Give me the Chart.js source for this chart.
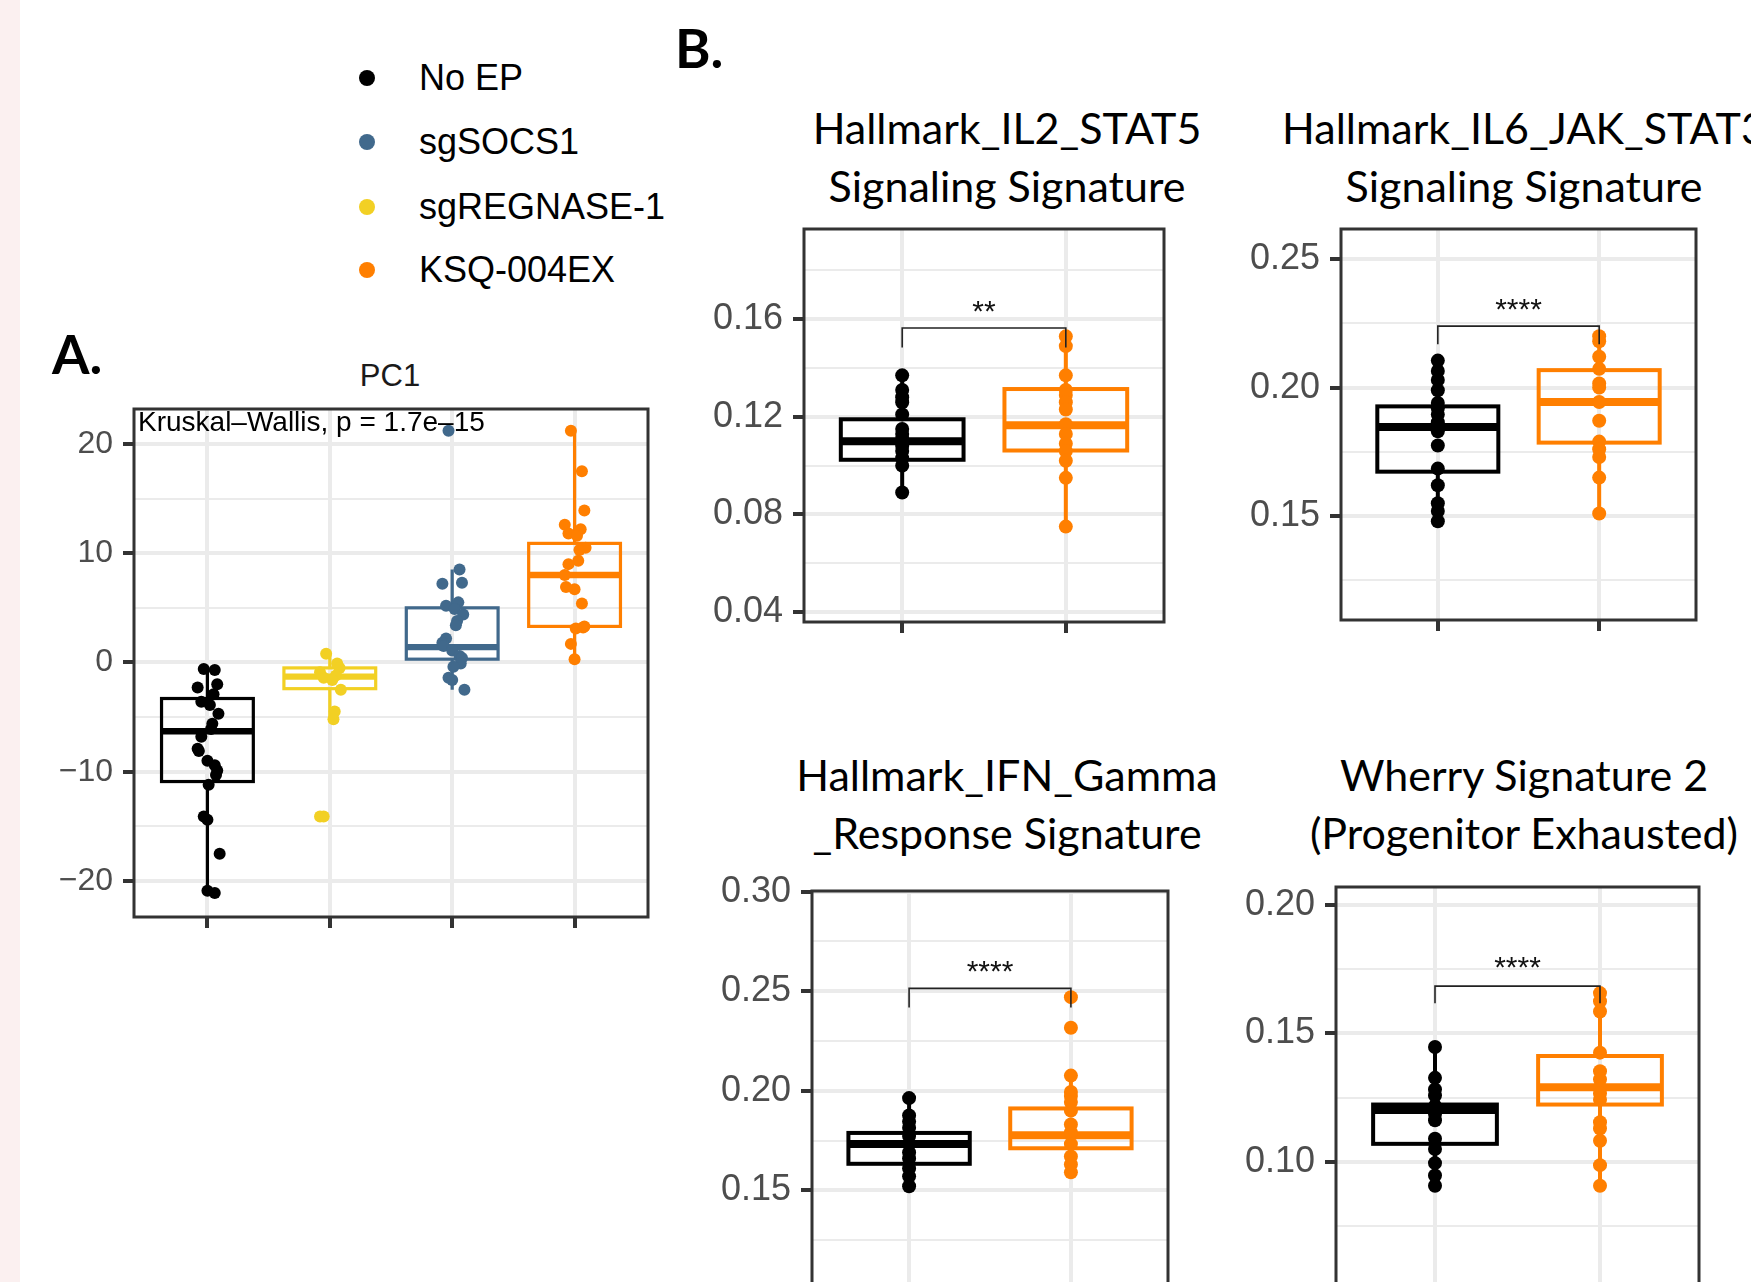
<!DOCTYPE html>
<html>
<head>
<meta charset="utf-8">
<script src="https://cdn.jsdelivr.net/npm/chart.js@4.4.1/dist/chart.umd.min.js"></script>
<style>
  html, body { margin: 0; padding: 0; overflow: hidden; background: #fff; }
  body { width: 1751px; height: 1282px; position: relative; font-family: "Liberation Sans", Arial, sans-serif; }
  .strip { position: absolute; left: 0; top: 0; width: 20px; height: 1282px; background: #fbf0f0; }
  .lab { position: absolute; font-family: Lato, sans-serif; font-weight: bold; font-size: 54px; line-height: 54px; color: #000; }
  .title { position: absolute; width: 700px; font-family: Lato, sans-serif; font-size: 43px; line-height: 58px; text-align: center; white-space: nowrap; color: #000; }
  .leg { position: absolute; font-size: 36px; line-height: 36px; color: #000; white-space: nowrap; }
  .dot { position: absolute; width: 16px; height: 16px; border-radius: 50%; }
  canvas { position: absolute; }
</style>
</head>
<body>
<div class="strip"></div>
<div class="lab" style="left:52px;top:327px">A.</div>
<div class="lab" style="left:675px;top:21px">B.</div>
<div id="legend"></div>
<div class="title" style="left:40px;top:360px;width:700px;font-family:'Liberation Sans';font-size:31px;line-height:31px;color:#1a1a1a">PC1</div>
<div class="title" style="left:657px;top:99px">Hallmark_IL2_STAT5<br>Signaling Signature</div>
<div class="title" style="left:1174px;top:99px">Hallmark_IL6_JAK_STAT3<br>Signaling Signature</div>
<div class="title" style="left:657px;top:746px">Hallmark_IFN_Gamma<br>_Response Signature</div>
<div class="title" style="left:1174px;top:746px">Wherry Signature 2<br>(Progenitor Exhausted)</div>

<script>
// groups and colours
const legendLabels = ["No EP", "sgSOCS1", "sgREGNASE-1", "KSQ-004EX"];
const legendColors = ["#000000", "#41698c", "#f2d024", "#ff7f00"];

// Panel A: PC1, x order No EP, sgREGNASE-1, sgSOCS1, KSQ-004EX
const pc1Groups = ["No EP", "sgREGNASE-1", "sgSOCS1", "KSQ-004EX"];
const pc1NoEP = [-0.6, -0.7, -2.0, -2.3, -2.9, -3.6, -3.9, -4.7, -5.6, -6.1, -6.8, -7.9, -8.1, -9.0, -9.4, -9.9, -10.3, -11.2, -14.1, -14.4, -17.5, -20.9, -21.1];
const pc1Regnase = [0.8, -0.1, -0.5, -0.9, -1.2, -1.4, -1.6, -2.5, -4.5, -5.2, -14.1, -14.1];
const pc1Socs1 = [21.2, 8.5, 7.3, 7.2, 5.5, 5.2, 4.9, 4.4, 3.8, 3.4, 2.2, 1.8, 1.5, 1.1, 0.6, 0.4, -0.1, -0.4, -1.4, -1.6, -2.5];
const pc1Ksq = [21.2, 17.5, 13.9, 12.6, 12.2, 11.8, 11.6, 10.5, 10.3, 9.3, 9.0, 8.0, 6.9, 6.7, 5.4, 3.3, 3.2, 3.1, 1.7, 0.3];
// box stats: [lower whisker, q1, median, q3, upper whisker]
const pc1Boxes = [
  [-21.1, -10.9, -6.3, -3.3, -0.6],
  [-5.2, -2.4, -1.3, -0.5, 0.8],
  [-2.5, 0.3, 1.4, 5.0, 8.5],
  [0.3, 3.3, 8.0, 10.9, 21.2]
];
const pc1Ticks = [-20, -10, 0, 10, 20];
const pc1Minor = [-15, -5, 5, 15];

// Panel B: No EP vs KSQ-004EX
const il2NoEP = [0.137, 0.131, 0.128, 0.126, 0.121, 0.115, 0.113, 0.111, 0.110, 0.108, 0.106, 0.103, 0.100, 0.089];
const il2Ksq = [0.153, 0.149, 0.137, 0.131, 0.129, 0.126, 0.123, 0.117, 0.113, 0.109, 0.106, 0.102, 0.095, 0.075];
const il2Boxes = [[0.089, 0.1024, 0.110, 0.119, 0.137], [0.075, 0.1062, 0.1166, 0.1314, 0.153]];
const il2Ticks = [0.04, 0.08, 0.12, 0.16];
const il2Minor = [0.06, 0.10, 0.14, 0.18];

const il6NoEP = [0.2105, 0.2065, 0.203, 0.199, 0.194, 0.192, 0.1895, 0.1865, 0.183, 0.1775, 0.1685, 0.162, 0.155, 0.152, 0.148];
const il6Ksq = [0.220, 0.218, 0.212, 0.2073, 0.2016, 0.200, 0.1944, 0.1871, 0.179, 0.176, 0.173, 0.165, 0.151];
const il6Boxes = [[0.148, 0.1673, 0.1847, 0.1927, 0.2105], [0.151, 0.1786, 0.1944, 0.2068, 0.220]];
const il6Ticks = [0.15, 0.20, 0.25];
const il6Minor = [0.125, 0.175, 0.225];

const ifnNoEP = [0.1963, 0.1876, 0.1845, 0.1814, 0.1773, 0.1732, 0.169, 0.166, 0.161, 0.157, 0.152];
const ifnKsq = [0.247, 0.2316, 0.2076, 0.1994, 0.1974, 0.1943, 0.190, 0.183, 0.179, 0.1732, 0.167, 0.163, 0.159];
const ifnBoxes = [[0.152, 0.1633, 0.1732, 0.1788, 0.1963], [0.159, 0.1711, 0.1777, 0.1911, 0.2076]];
const ifnTicks = [0.15, 0.20, 0.25, 0.30];
const ifnMinor = [0.125, 0.175, 0.225, 0.275];

const wherryNoEP = [0.1447, 0.1327, 0.1282, 0.1258, 0.1218, 0.1186, 0.1162, 0.109, 0.105, 0.0995, 0.0947, 0.0907];
const wherryKsq = [0.1657, 0.1625, 0.1585, 0.1425, 0.1353, 0.1321, 0.129, 0.1266, 0.1242, 0.1154, 0.113, 0.1082, 0.0987, 0.0907];
const wherryBoxes = [[0.0907, 0.107, 0.1202, 0.1223, 0.1447], [0.0907, 0.1223, 0.129, 0.1412, 0.1657]];
const wherryTicks = [0.10, 0.15, 0.20];
const wherryMinor = [0.075, 0.125, 0.175];

// significance: [bracket y, drop-to y, label y, label]
const il2Sig = [0.1564, 0.1484, 0.165, "**"];
const il6Sig = [0.2239, 0.2169, 0.2323, "****"];
const ifnSig = [0.2514, 0.2418, 0.2623, "****"];
const wherrySig = [0.1684, 0.1617, 0.1776, "****"];

// horizontal jitter used for panel A points
const jitterA = [-0.03, 0.06, 0.08, -0.08, 0.05, -0.05, 0.02, 0.09, 0.04, 0.03, -0.05, -0.08, -0.07, 0.00, 0.06, 0.08, 0.07, 0.01, -0.03, 0.00, 0.10, 0.00, 0.06];

// legend
const legendTop = [78, 142, 207, 270];
const legend = document.getElementById("legend");
legendLabels.forEach(function (name, i) {
  const d = document.createElement("div");
  d.className = "dot";
  d.style.left = "359px";
  d.style.top = (legendTop[i] - 8) + "px";
  d.style.background = legendColors[i];
  legend.appendChild(d);
  const t = document.createElement("div");
  t.className = "leg";
  t.style.left = "419px";
  t.style.top = (legendTop[i] - 18) + "px";
  t.textContent = name;
  legend.appendChild(t);
});

const boxPlugin = {
  id: "boxes",
  beforeDatasetsDraw(chart, args, o) {
    const ctx = chart.ctx, x = chart.scales.x, y = chart.scales.y;
    ctx.save();
    o.boxes.forEach(function (b, i) {
      const cx = x.getPixelForValue(i + 1);
      const l = x.getPixelForValue(i + 1 - 0.375);
      const r = x.getPixelForValue(i + 1 + 0.375);
      const yLo = y.getPixelForValue(b[0]), yQ1 = y.getPixelForValue(b[1]);
      const yMed = y.getPixelForValue(b[2]), yQ3 = y.getPixelForValue(b[3]);
      const yHi = y.getPixelForValue(b[4]);
      ctx.strokeStyle = o.colors[i];
      ctx.lineWidth = o.lw;
      ctx.beginPath();
      ctx.moveTo(cx, yHi); ctx.lineTo(cx, yQ3);
      ctx.moveTo(cx, yQ1); ctx.lineTo(cx, yLo);
      ctx.stroke();
      ctx.strokeRect(l, yQ3, r - l, yQ1 - yQ3);
      ctx.lineWidth = o.lw * 2;
      ctx.beginPath();
      ctx.moveTo(l, yMed); ctx.lineTo(r, yMed);
      ctx.stroke();
    });
    ctx.restore();
  },
  afterDatasetsDraw(chart, args, o) {
    const ctx = chart.ctx, x = chart.scales.x, y = chart.scales.y, a = chart.chartArea;
    ctx.save();
    if (o.sig) {
      const x1 = x.getPixelForValue(1), x2 = x.getPixelForValue(2);
      const yb = y.getPixelForValue(o.sig[0]), yd = y.getPixelForValue(o.sig[1]);
      ctx.strokeStyle = "#222";
      ctx.lineWidth = 1.6;
      ctx.beginPath();
      ctx.moveTo(x1, yd); ctx.lineTo(x1, yb); ctx.lineTo(x2, yb); ctx.lineTo(x2, yd);
      ctx.stroke();
      ctx.fillStyle = "#111";
      ctx.font = '30px "Liberation Sans"';
      ctx.textAlign = "center";
      ctx.textBaseline = "middle";
      ctx.fillText(o.sig[3], (x1 + x2) / 2, y.getPixelForValue(o.sig[2]) + 6);
    }
    if (o.note) {
      ctx.fillStyle = "#000";
      ctx.font = '28px "Liberation Sans"';
      ctx.textAlign = "left";
      ctx.textBaseline = "alphabetic";
      ctx.fillText(o.note, a.left + 4, a.top + 22);
    }
    ctx.strokeStyle = "#333333";
    ctx.lineWidth = 3;
    ctx.strokeRect(a.left, a.top, a.right - a.left, a.bottom - a.top);
    ctx.restore();
  }
};

function near(list, v) {
  return list.some(function (t) { return Math.abs(t - v) < 1e-9; });
}

function makePanel(p) {
  const axisW = 130, padTop = 45, padRight = 12, xAxisH = 45;
  const canvas = document.createElement("canvas");
  const w = axisW + (p.r - p.l) + padRight;
  const h = padTop + (p.b - p.t) + xAxisH;
  canvas.width = w;
  canvas.height = h;
  canvas.style.left = (p.l - axisW) + "px";
  canvas.style.top = (p.t - padTop) + "px";
  document.body.appendChild(canvas);

  const cats = p.series.map(function (s, i) { return i + 1; });
  const datasets = p.series.map(function (vals, i) {
    return {
      data: vals.map(function (v, j) {
        return { x: i + 1 + (p.jitter ? p.jitter[j % p.jitter.length] : 0), y: v };
      }),
      backgroundColor: p.colors[i],
      borderWidth: 0,
      pointRadius: p.ptR,
      pointHoverRadius: p.ptR
    };
  });
  const allTicks = p.ticks.concat(p.minor).sort(function (a, b) { return a - b; });

  new Chart(canvas, {
    type: "scatter",
    data: { datasets: datasets },
    plugins: [boxPlugin],
    options: {
      responsive: false,
      animation: false,
      events: [],
      layout: { padding: { top: padTop, right: padRight, left: 0, bottom: 0 } },
      scales: {
        x: {
          type: "linear",
          min: 0.4,
          max: cats.length + 0.6,
          afterBuildTicks: function (s) { s.ticks = cats.map(function (v) { return { value: v }; }); },
          afterFit: function (s) { s.height = xAxisH; },
          ticks: { display: false },
          border: { display: false },
          grid: { color: "#ebebeb", lineWidth: 4, tickColor: "#333333", tickLength: 11, tickWidth: 4 }
        },
        y: {
          type: "linear",
          min: p.min,
          max: p.max,
          afterBuildTicks: function (s) { s.ticks = allTicks.map(function (v) { return { value: v }; }); },
          afterFit: function (s) { s.width = axisW; },
          border: { display: false },
          ticks: {
            autoSkip: false,
            padding: 10,
            color: "#4d4d4d",
            font: { family: "Liberation Sans", size: p.fontSize },
            callback: function (v) {
              if (!near(p.ticks, v)) return "";
              if (p.dec === 0) return v < 0 ? "\u2212" + Math.abs(v) : String(v);
              return v.toFixed(p.dec);
            }
          },
          grid: {
            color: "#ebebeb",
            lineWidth: function (c) { return near(p.ticks, c.tick.value) ? 4 : 2; },
            tickColor: function (c) { return near(p.ticks, c.tick.value) ? "#333333" : "rgba(0,0,0,0)"; },
            tickLength: 11,
            tickWidth: 4
          }
        }
      },
      plugins: {
        legend: { display: false },
        tooltip: { enabled: false },
        boxes: { boxes: p.boxes, colors: p.colors, lw: p.lw, sig: p.sig, note: p.note }
      }
    }
  });
}

const black = legendColors[0], blue = legendColors[1], yellow = legendColors[2], orange = legendColors[3];

makePanel({
  l: 134, t: 409, r: 648, b: 917, min: -23.3, max: 23.2,
  ticks: pc1Ticks, minor: pc1Minor, dec: 0, fontSize: 32,
  series: [pc1NoEP, pc1Regnase, pc1Socs1, pc1Ksq], boxes: pc1Boxes,
  colors: [black, yellow, blue, orange], jitter: jitterA, ptR: 6, lw: 3.2,
  note: "Kruskal\u2013Wallis, p = 1.7e\u201315"
});
makePanel({
  l: 804, t: 229, r: 1164, b: 622, min: 0.0359, max: 0.197,
  ticks: il2Ticks, minor: il2Minor, dec: 2, fontSize: 36,
  series: [il2NoEP, il2Ksq], boxes: il2Boxes, colors: [black, orange], ptR: 7, lw: 4, sig: il2Sig
});
makePanel({
  l: 1341, t: 229, r: 1696, b: 620, min: 0.1096, max: 0.2617,
  ticks: il6Ticks, minor: il6Minor, dec: 2, fontSize: 36,
  series: [il6NoEP, il6Ksq], boxes: il6Boxes, colors: [black, orange], ptR: 7, lw: 4, sig: il6Sig
});
makePanel({
  l: 812, t: 891, r: 1168, b: 1300, min: 0.0949, max: 0.3003,
  ticks: ifnTicks, minor: ifnMinor, dec: 2, fontSize: 36,
  series: [ifnNoEP, ifnKsq], boxes: ifnBoxes, colors: [black, orange], ptR: 7, lw: 4, sig: ifnSig
});
makePanel({
  l: 1336, t: 887, r: 1699, b: 1300, min: 0.0462, max: 0.207,
  ticks: wherryTicks, minor: wherryMinor, dec: 2, fontSize: 36,
  series: [wherryNoEP, wherryKsq], boxes: wherryBoxes, colors: [black, orange], ptR: 7, lw: 4, sig: wherrySig
});
</script>
</body>
</html>
